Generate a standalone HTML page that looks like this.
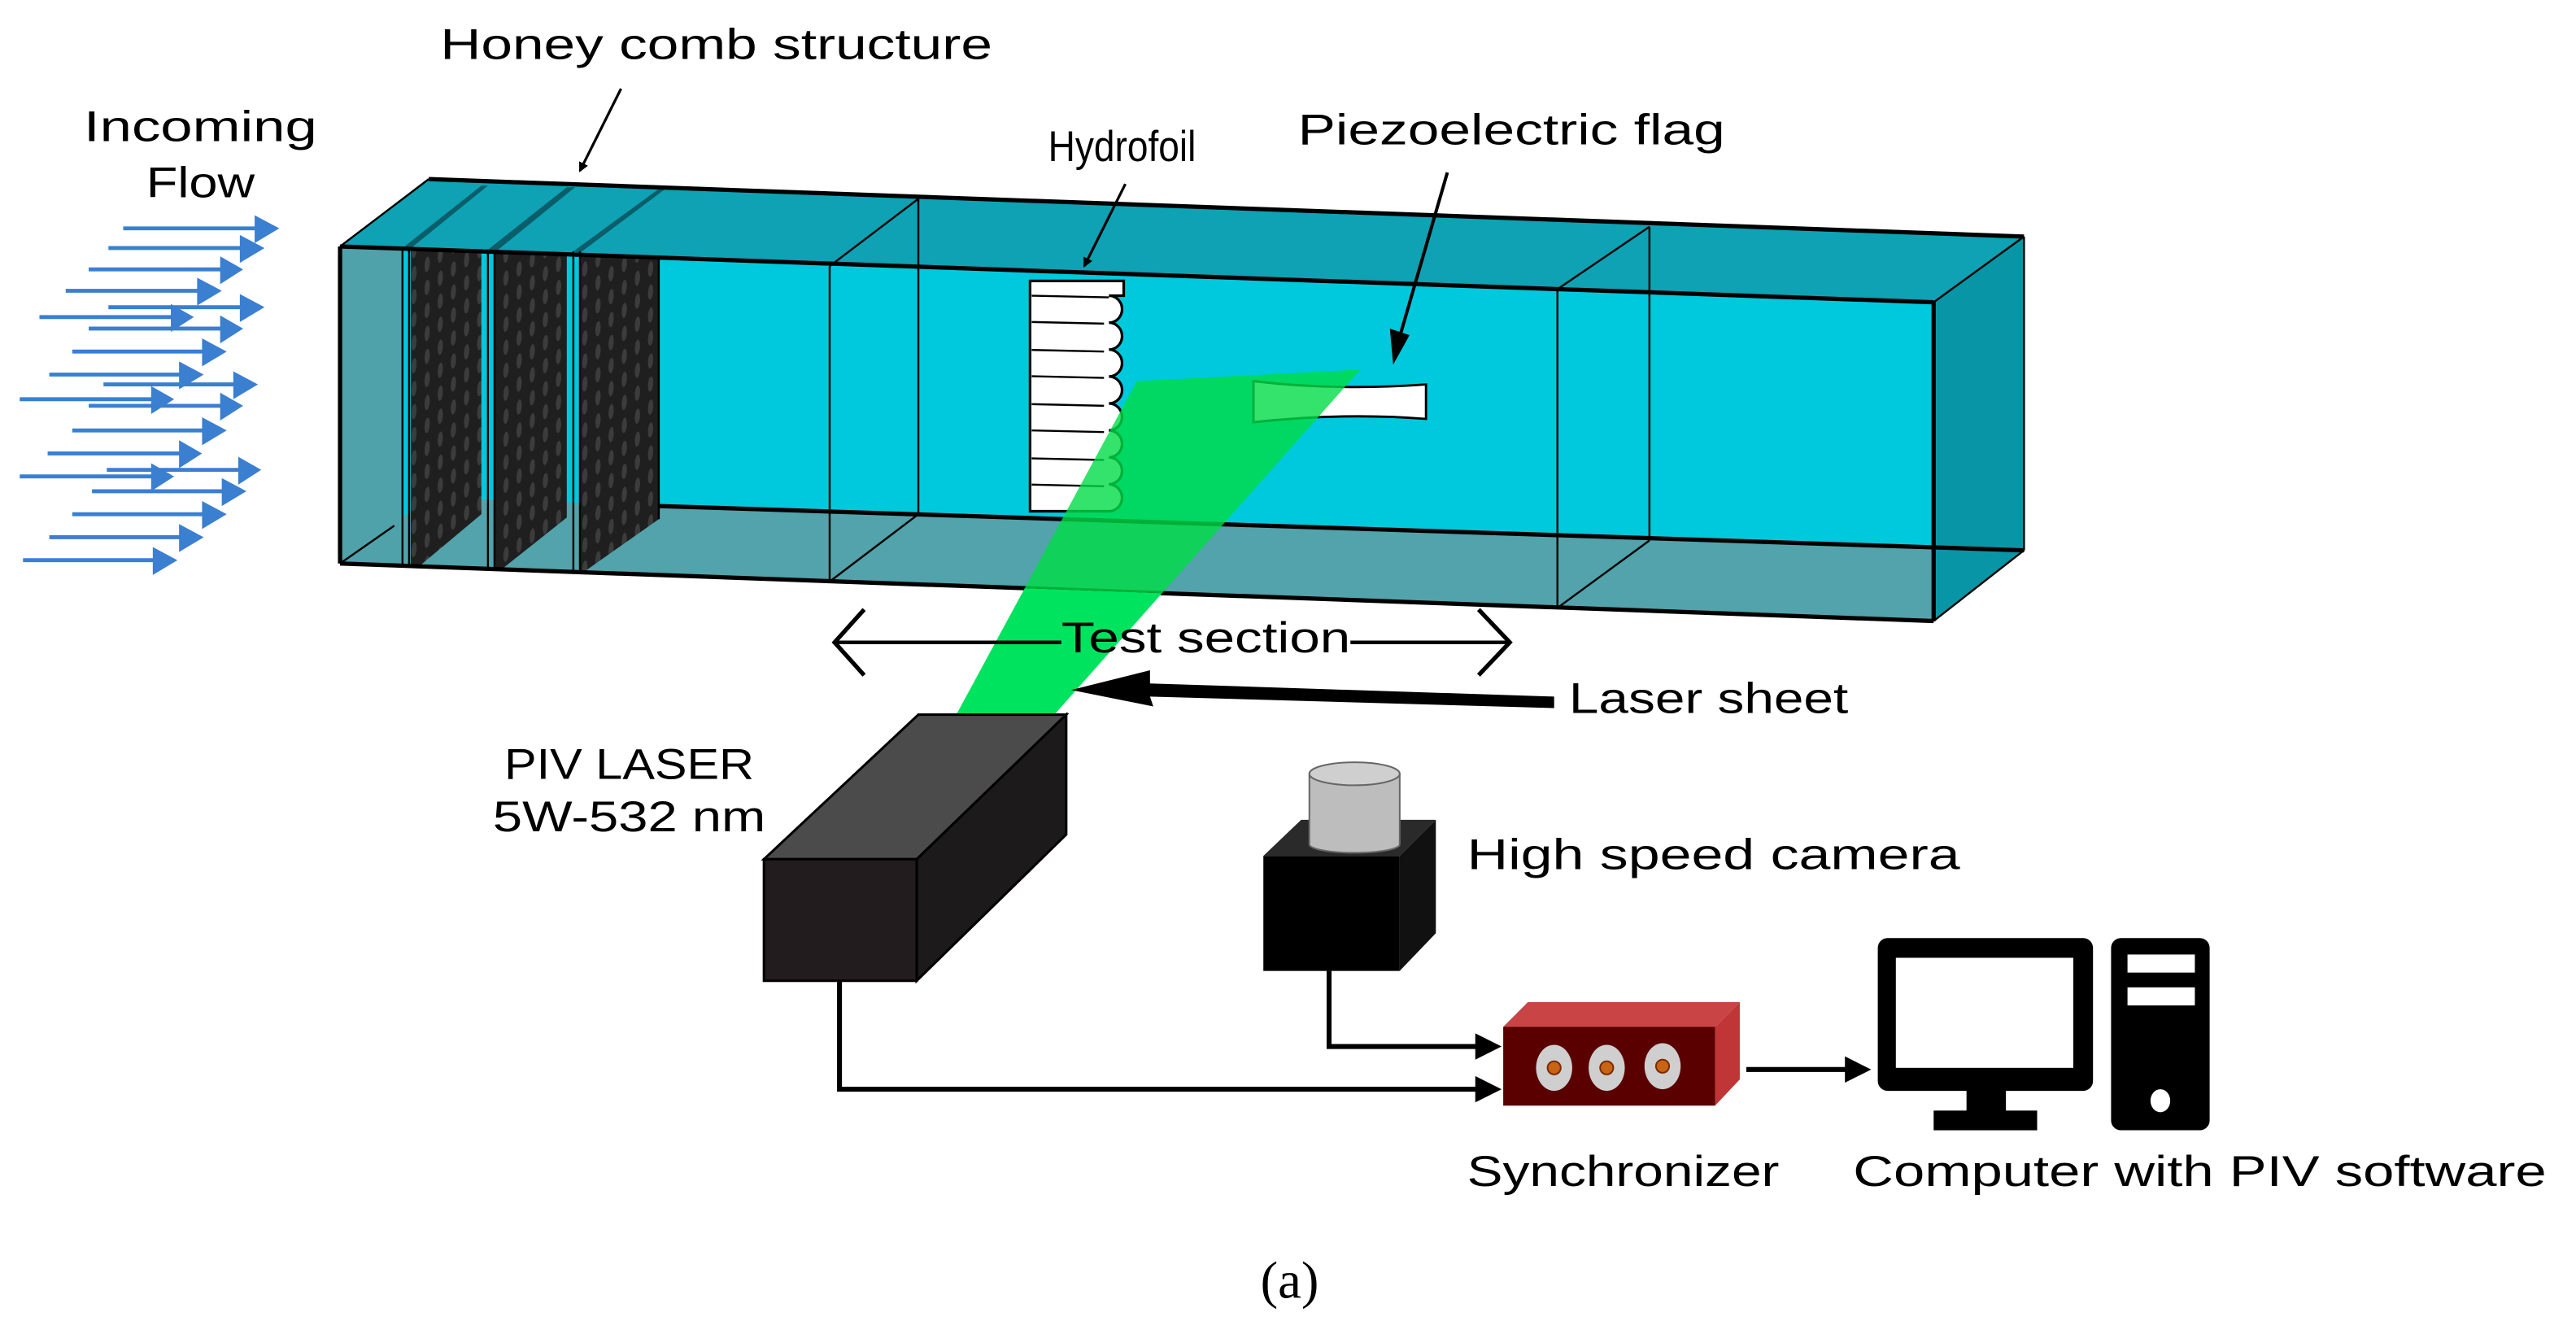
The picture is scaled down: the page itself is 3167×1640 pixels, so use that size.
<!DOCTYPE html>
<html><head><meta charset="utf-8"><style>
html,body{margin:0;padding:0;background:#fff;}
svg{display:block;}
text{font-family:"Liberation Sans","DejaVu Sans",sans-serif;fill:#000;}
</style></head><body>
<svg width="3167" height="1640" viewBox="0 0 1568 812" preserveAspectRatio="none" xmlns="http://www.w3.org/2000/svg">
<defs>
<pattern id="holes" x="0" y="0" width="8" height="14" patternUnits="userSpaceOnUse" patternTransform="skewY(-35)">
<rect width="8" height="14" fill="#1f1f1f"/>
<ellipse cx="4" cy="7" rx="1.6" ry="4.5" fill="#3c3c3c"/>
</pattern>
<marker id="bh" markerWidth="6" markerHeight="6" refX="5" refY="3" orient="auto" markerUnits="userSpaceOnUse"><path d="M0,0 L6,3 L0,6z" fill="#000"/></marker>
<clipPath id="inTunnel"><polygon points="207,150 1177,184 1177,378 207,343"/></clipPath>
<clipPath id="outTunnel"><polygon points="0,343 207,343 1177,378 1568,378 1568,812 0,812"/></clipPath>
</defs>

<g fill="#3a7fd0">
<path d="M75,139H158" stroke="#3a7fd0" stroke-width="2.4"/><path d="M155,131L170,139L155,148z"/>
<path d="M66,151H150" stroke="#3a7fd0" stroke-width="2.4"/><path d="M146,143L161,151L146,160z"/>
<path d="M54,164H137" stroke="#3a7fd0" stroke-width="2.4"/><path d="M134,156L148,164L134,173z"/>
<path d="M40,177H124" stroke="#3a7fd0" stroke-width="2.4"/><path d="M120,169L135,177L120,186z"/>
<path d="M66,187H150" stroke="#3a7fd0" stroke-width="2.4"/><path d="M146,179L161,187L146,196z"/>
<path d="M24,193H107" stroke="#3a7fd0" stroke-width="2.4"/><path d="M104,185L118,193L104,202z"/>
<path d="M54,200H137" stroke="#3a7fd0" stroke-width="2.4"/><path d="M134,192L148,200L134,209z"/>
<path d="M44,214H127" stroke="#3a7fd0" stroke-width="2.4"/><path d="M123,206L138,214L123,223z"/>
<path d="M30,228H113" stroke="#3a7fd0" stroke-width="2.4"/><path d="M109,220L124,228L109,237z"/>
<path d="M63,234H146" stroke="#3a7fd0" stroke-width="2.4"/><path d="M142,226L157,234L142,243z"/>
<path d="M12,243H95" stroke="#3a7fd0" stroke-width="2.4"/><path d="M92,235L106,243L92,252z"/>
<path d="M54,247H137" stroke="#3a7fd0" stroke-width="2.4"/><path d="M134,239L148,247L134,256z"/>
<path d="M44,262H127" stroke="#3a7fd0" stroke-width="2.4"/><path d="M123,254L138,262L123,271z"/>
<path d="M29,276H112" stroke="#3a7fd0" stroke-width="2.4"/><path d="M109,268L123,276L109,285z"/>
<path d="M65,286H148" stroke="#3a7fd0" stroke-width="2.4"/><path d="M145,278L159,286L145,295z"/>
<path d="M12,290H95" stroke="#3a7fd0" stroke-width="2.4"/><path d="M92,282L106,290L92,299z"/>
<path d="M56,299H139" stroke="#3a7fd0" stroke-width="2.4"/><path d="M135,291L150,299L135,308z"/>
<path d="M44,313H127" stroke="#3a7fd0" stroke-width="2.4"/><path d="M123,305L138,313L123,322z"/>
<path d="M30,327H113" stroke="#3a7fd0" stroke-width="2.4"/><path d="M109,319L124,327L109,336z"/>
<path d="M14,341H97" stroke="#3a7fd0" stroke-width="2.4"/><path d="M93,333L108,341L93,350z"/>
</g>

<polygon points="207,150 1177,184 1232,144 261,109" fill="#0ea2b4"/>
<polygon points="207,150 1177,184 1177,378 207,343" fill="#00c9dd"/>
<polygon points="261,303 1232,335 1177,378 207,343" fill="#52a3ab"/>
<polygon points="1177,184 1232,144 1232,335 1177,378" fill="#0896a6"/>
<polygon points="207,150 245,151 245,343 207,343" fill="#4fa2aa"/>
<polygon points="245,151 293,113 297,113 249,152" fill="#0a5e6a"/>
<polygon points="297,152 345,114 350,114 302,153" fill="#0a5e6a"/>
<polygon points="349,153 401,115 405,115 353,154" fill="#0a5e6a"/>
<polygon points="250,152 293,153 293,313 256,344 250,344" fill="url(#holes)"/>
<polygon points="301,153 345,154 345,315 306,346 301,346" fill="url(#holes)"/>
<polygon points="353,154 401,156 401,316 357,347 353,347" fill="url(#holes)"/>
<g stroke="#000" stroke-width="1.2" fill="none">
<line x1="245" y1="151" x2="245" y2="344"/><line x1="249" y1="151" x2="249" y2="344"/>
<line x1="297" y1="152" x2="297" y2="346"/><line x1="301" y1="152" x2="301" y2="346"/>
<line x1="349" y1="153" x2="349" y2="347"/><line x1="353" y1="153" x2="353" y2="347"/>
<line x1="207" y1="343" x2="240" y2="320"/>
<line x1="505" y1="162" x2="505" y2="354"/><line x1="559" y1="121" x2="559" y2="313"/>
<line x1="505" y1="162" x2="559" y2="121"/><line x1="505" y1="354" x2="559" y2="313"/>
<line x1="948" y1="176" x2="948" y2="370"/><line x1="1004" y1="138" x2="1004" y2="329"/>
<line x1="948" y1="176" x2="1004" y2="138"/><line x1="948" y1="370" x2="1004" y2="329"/>
<line x1="1177" y1="184" x2="1232" y2="144"/><line x1="1177" y1="378" x2="1232" y2="335"/>
<line x1="1232" y1="144" x2="1232" y2="335"/>
<line x1="401" y1="156" x2="401" y2="316"/>
<line x1="207" y1="150" x2="261" y2="109"/>
</g>
<g stroke="#000" stroke-width="2.6" fill="none">
<line x1="207" y1="150" x2="1177" y2="184"/>
<line x1="261" y1="109" x2="1232" y2="144"/>
<line x1="207" y1="343" x2="1177" y2="378"/>
<line x1="401" y1="308" x2="1232" y2="335"/>
<line x1="207" y1="150" x2="207" y2="343"/>
<line x1="1177" y1="184" x2="1177" y2="378"/>
</g>

<path d="M627,171 H684 V180 H675 a8,8.2 0 0 1 0,16.4 a8,8.2 0 0 1 0,16.4 a8,8.2 0 0 1 0,16.4 a8,8.2 0 0 1 0,16.4 a8,8.2 0 0 1 0,16.4 a8,8.2 0 0 1 0,16.4 a8,8.2 0 0 1 0,16.4 a8,8.2 0 0 1 0,16.4 H627 Z" fill="#fff" stroke="#000" stroke-width="1.6"/>
<g stroke="#000" stroke-width="1.2">
<line x1="628" y1="180" x2="675" y2="181"/><line x1="628" y1="196" x2="672" y2="197"/><line x1="628" y1="213" x2="672" y2="214"/>
<line x1="628" y1="229" x2="672" y2="230"/><line x1="628" y1="246" x2="672" y2="247"/><line x1="628" y1="262" x2="672" y2="263"/>
<line x1="628" y1="279" x2="672" y2="280"/><line x1="628" y1="295" x2="672" y2="296"/>
</g>
<path d="M763,232 q50,6 105,2 V255 q-50,-4 -105,2 Z" fill="#fff" stroke="#000" stroke-width="1.4"/>

<polygon points="692,232 828,225 640,437 581,437" fill="#00e35e" clip-path="url(#outTunnel)"/>
<polygon points="692,232 828,225 640,437 581,437" fill="#00dc46" opacity="0.8" clip-path="url(#inTunnel)"/>

<text x="122" y="86" font-size="26" text-anchor="middle" textLength="142" lengthAdjust="spacingAndGlyphs">Incoming</text>
<text x="122" y="120" font-size="26" text-anchor="middle" textLength="66" lengthAdjust="spacingAndGlyphs">Flow</text>
<text x="268" y="36" font-size="26" textLength="336" lengthAdjust="spacingAndGlyphs">Honey comb structure</text>
<line x1="378" y1="54" x2="353" y2="104" stroke="#000" stroke-width="1.6" marker-end="url(#bh)"/>
<text x="638" y="98" font-size="26" textLength="90" lengthAdjust="spacingAndGlyphs">Hydrofoil</text>
<line x1="685" y1="112" x2="660" y2="162" stroke="#000" stroke-width="1.6" marker-end="url(#bh)"/>
<text x="790" y="88" font-size="26" textLength="260" lengthAdjust="spacingAndGlyphs">Piezoelectric flag</text>
<line x1="881" y1="105" x2="852" y2="205" stroke="#000" stroke-width="2"/>
<path d="M846,200 L858,204 L848,222 Z" fill="#000"/>

<text x="646" y="397" font-size="26" textLength="176" lengthAdjust="spacingAndGlyphs">Test section</text>
<line x1="508" y1="391" x2="646" y2="391" stroke="#000" stroke-width="2.2"/>
<line x1="822" y1="391" x2="918" y2="391" stroke="#000" stroke-width="2.2"/>
<polyline points="526,371 508,391 526,411" fill="none" stroke="#000" stroke-width="2.6"/>
<polyline points="900,371 919,391 900,411" fill="none" stroke="#000" stroke-width="2.6"/>

<path d="M946,431 L700,424 L702,430 L652,420 L700,408 L700,416 L946,424 Z" fill="#000"/>
<text x="955" y="434" font-size="26" textLength="170" lengthAdjust="spacingAndGlyphs">Laser sheet</text>

<text x="383" y="474" font-size="26" text-anchor="middle" textLength="152" lengthAdjust="spacingAndGlyphs">PIV LASER</text>
<text x="383" y="506" font-size="26" text-anchor="middle" textLength="166" lengthAdjust="spacingAndGlyphs">5W-532 nm</text>
<polygon points="465,523 559,435 649,435 558,523" fill="#4b4b4b" stroke="#000" stroke-width="1.5"/>
<polygon points="558,523 649,435 649,508 558,597" fill="#1c1a1b" stroke="#000" stroke-width="1.5"/>
<rect x="465" y="523" width="93" height="74" fill="#231c1e" stroke="#000" stroke-width="1.5"/>

<polygon points="769,521 792,499 874,499 852,521" fill="#2a2a2a"/>
<polygon points="852,521 874,499 874,568 852,591" fill="#111"/>
<rect x="769" y="521" width="83" height="70" fill="#000"/>
<path d="M797,471 V514 A27,5 0 0 0 852,514 V471 Z" fill="#bdbdbd" stroke="#666" stroke-width="1"/>
<ellipse cx="824.5" cy="471" rx="27.5" ry="7" fill="#cfcfcf" stroke="#666" stroke-width="1"/>
<text x="893" y="529" font-size="26" textLength="300" lengthAdjust="spacingAndGlyphs">High speed camera</text>

<g stroke="#000" stroke-width="3" fill="none">
<polyline points="511,597 511,663 900,663"/>
<polyline points="809,591 809,637 900,637"/>
<line x1="1063" y1="651" x2="1125" y2="651"/>
</g>
<path d="M898,655 L914,663 L898,671Z M898,629 L914,637 L898,645Z M1123,643 L1139,651 L1123,659Z" fill="#000"/>

<polygon points="915,625 930,610 1059,610 1044,625" fill="#c94545"/>
<polygon points="1044,625 1059,610 1059,657 1044,673" fill="#c03535"/>
<rect x="915" y="625" width="129" height="48" fill="#5a0000"/>
<g fill="#cfcfcf"><ellipse cx="946" cy="650" rx="11" ry="14"/><ellipse cx="978" cy="650" rx="11" ry="14"/><ellipse cx="1012" cy="649" rx="11" ry="14"/></g>
<g fill="#c86414" stroke="#7a2a00" stroke-width="1"><circle cx="946" cy="650" r="4"/><circle cx="978" cy="650" r="4"/><circle cx="1012" cy="649" r="4"/></g>

<rect x="1143" y="571" width="131" height="93" rx="6" fill="#000"/>
<rect x="1154" y="583" width="108" height="67" fill="#fff"/>
<rect x="1197" y="663" width="24" height="15" fill="#000"/>
<rect x="1177" y="676" width="63" height="12" fill="#000"/>
<rect x="1285" y="571" width="60" height="117" rx="6" fill="#000"/>
<rect x="1295" y="581" width="41" height="11" fill="#fff"/>
<rect x="1295" y="601" width="41" height="11" fill="#fff"/>
<ellipse cx="1315" cy="670" rx="6" ry="7" fill="#fff"/>

<text x="893" y="722" font-size="26" textLength="190" lengthAdjust="spacingAndGlyphs">Synchronizer</text>
<text x="1128" y="722" font-size="26" textLength="422" lengthAdjust="spacingAndGlyphs">Computer with PIV software</text>
<text x="785" y="790" font-size="32" text-anchor="middle" style="font-family:'Liberation Serif',serif">(a)</text>
</svg>
</body></html>
